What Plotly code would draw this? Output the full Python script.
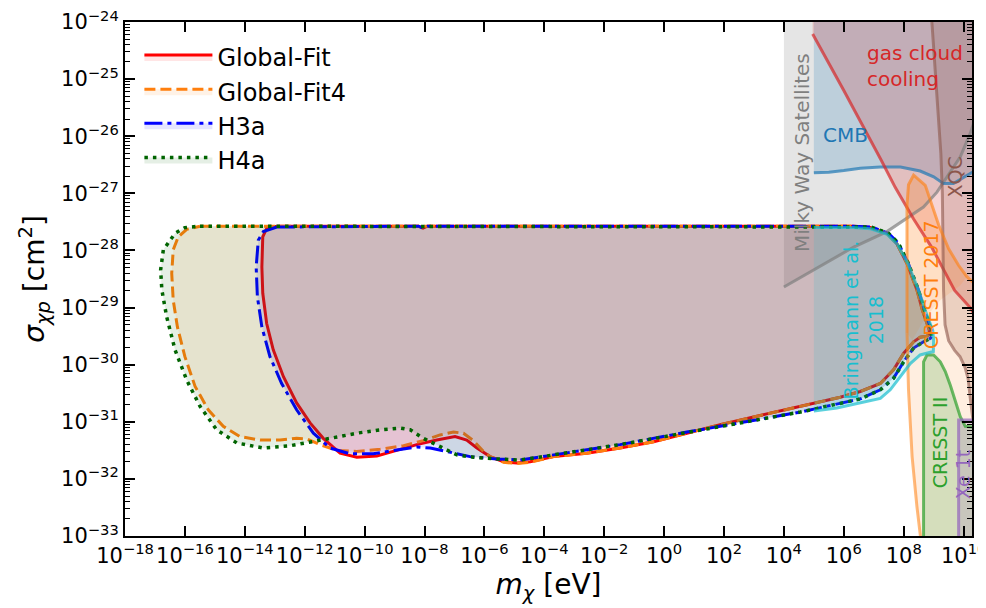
import numpy as np
import plotly.graph_objects as go

# ---------------- data (log10 m_chi [eV], log10 sigma [cm^2]) ----------------
global_fit = [(-12.93,-27.575),(-8.2,-27.575),(-8.05,-27.61),(-7.9,-27.575),(6.33,-27.575),(6.88,-27.60),
    (7.44,-27.70),(7.77,-27.88),(8.11,-28.23),(8.44,-28.69),(8.62,-29.04),(8.85,-29.39),(8.86,-29.46),
    (8.78,-29.50),(8.55,-29.52),(8.33,-29.60),(8.00,-29.80),(7.66,-30.09),(7.22,-30.33),(6.55,-30.47),
    (5.88,-30.57),(4.55,-30.73),(2.99,-30.91),(1.87,-31.05),(0.76,-31.20),(-0.35,-31.35),(-1.47,-31.46),
    (-2.58,-31.55),(-3.69,-31.61),(-4.47,-31.70),(-4.92,-31.72),(-5.36,-31.70),(-5.81,-31.61),(-6.25,-31.46),
    (-6.59,-31.32),(-6.98,-31.26),(-7.59,-31.32),(-8.26,-31.40),(-8.93,-31.50),(-9.59,-31.60),(-10.26,-31.62),
    (-10.82,-31.55),(-11.38,-31.29),(-11.82,-31.02),(-12.27,-30.67),(-12.71,-30.21),(-13.05,-29.74),
    (-13.27,-29.28),(-13.40,-28.75),(-13.43,-28.29),(-13.40,-27.76),(-13.27,-27.615),(-12.93,-27.575)]

global_fit4 = [(-15.495,-27.575),(6.33,-27.575),(6.88,-27.60),(7.44,-27.70),(7.77,-27.88),(8.11,-28.23),
    (8.44,-28.69),(8.62,-29.04),(8.85,-29.39),(8.86,-29.46),(8.78,-29.50),(8.55,-29.52),(8.33,-29.60),
    (8.00,-29.80),(7.66,-30.09),(7.22,-30.33),(6.55,-30.47),(5.88,-30.57),(4.55,-30.73),(2.99,-30.91),
    (1.87,-31.05),(0.76,-31.20),(-0.35,-31.35),(-1.47,-31.46),(-2.58,-31.55),(-3.69,-31.61),(-4.47,-31.71),
    (-4.92,-31.73),(-5.36,-31.71),(-5.81,-31.61),(-6.03,-31.52),(-6.37,-31.33),(-6.70,-31.20),(-7.03,-31.18),
    (-7.48,-31.23),(-8.04,-31.33),(-8.70,-31.42),(-9.48,-31.48),(-10.26,-31.52),(-10.93,-31.50),
    (-11.49,-31.40),(-11.93,-31.30),(-12.27,-31.29),(-12.82,-31.32),(-13.49,-31.32),(-14.16,-31.26),
    (-14.72,-31.08),(-15.22,-30.79),(-15.66,-30.38),(-16.00,-29.86),(-16.25,-29.34),(-16.39,-28.87),
    (-16.44,-28.40),(-16.39,-27.99),(-16.22,-27.76),(-15.94,-27.63),(-15.495,-27.575)]

h3a = [(-12.93,-27.59),(-8.2,-27.575),(-8.05,-27.61),(-7.9,-27.575),(6.31,-27.575),(6.92,-27.59),
    (7.49,-27.70),(7.82,-27.87),(8.15,-28.22),(8.49,-28.69),(8.69,-29.04),(8.92,-29.39),(8.93,-29.50),
    (8.89,-29.54),(8.66,-29.60),(8.33,-29.71),(8.00,-29.95),(7.66,-30.24),(7.22,-30.44),(6.55,-30.60),
    (4.55,-30.83),(2.99,-30.98),(1.87,-31.08),(0.76,-31.18),(-0.35,-31.29),(-1.47,-31.40),(-2.58,-31.49),
    (-3.69,-31.58),(-4.81,-31.67),(-5.59,-31.65),(-6.48,-31.61),(-7.26,-31.52),(-7.81,-31.46),(-8.26,-31.44),
    (-8.93,-31.50),(-9.71,-31.56),(-10.49,-31.56),(-11.15,-31.46),(-11.71,-31.20),(-12.27,-30.79),
    (-12.77,-30.33),(-13.16,-29.86),(-13.43,-29.34),(-13.58,-28.81),(-13.62,-28.29),(-13.55,-27.82),
    (-13.38,-27.67),(-12.93,-27.59)]

h4a = [(-15.495,-27.575),(6.31,-27.575),(6.92,-27.59),(7.49,-27.70),(7.82,-27.87),(8.15,-28.22),
    (8.49,-28.69),(8.69,-29.04),(8.92,-29.39),(8.93,-29.50),(8.89,-29.54),(8.66,-29.60),(8.33,-29.71),
    (8.00,-29.95),(7.66,-30.24),(7.22,-30.44),(6.55,-30.60),(4.55,-30.83),(2.99,-30.98),(1.87,-31.08),
    (0.76,-31.18),(-0.35,-31.29),(-1.47,-31.40),(-2.58,-31.49),(-3.69,-31.58),(-4.81,-31.67),(-5.59,-31.65),
    (-6.37,-31.62),(-6.92,-31.58),(-7.48,-31.43),(-8.04,-31.29),(-8.48,-31.14),(-8.81,-31.11),(-9.48,-31.14),
    (-10.26,-31.20),(-11.15,-31.29),(-11.82,-31.35),(-12.49,-31.42),(-13.38,-31.46),(-14.27,-31.37),
    (-14.94,-31.14),(-15.495,-30.73),(-15.94,-30.27),(-16.33,-29.74),(-16.61,-29.16),(-16.77,-28.69),
    (-16.81,-28.34),(-16.72,-27.99),(-16.33,-27.70),(-16.0,-27.60),(-15.495,-27.575)]

# constraint boundaries
mw_line = [(4.0,-28.64),(5.0,-28.34),(6.33,-27.94),(7.44,-27.67),(8.11,-27.44),(8.66,-27.24),(9.11,-26.98),
    (9.44,-26.71),(9.89,-26.36),(10.22,-25.95),(10.45,-25.6)]
cmb_line = [(5.0,-26.64),(5.5,-26.63),(6.0,-26.60),(6.55,-26.56),(7.22,-26.54),(7.89,-26.54),(8.55,-26.61),
    (9.0,-26.71),(9.33,-26.83),(9.66,-26.83),(9.94,-26.74),(10.45,-26.58)]
gas_line = [(4.96,-24.21),(6.0,-25.2),(7.25,-26.42),(7.72,-26.90),(8.33,-27.45),(8.94,-27.95),(9.7,-28.70),
    (10.22,-29.0),(10.45,-29.2)]
xqc_line = [(8.94,-24.0),(9.05,-24.8),(9.15,-25.5),(9.24,-26.3),(9.29,-27.0),(9.31,-28.0),(9.33,-28.7),
    (9.38,-29.3),(9.50,-29.58),(9.70,-29.75),(9.88,-29.86),(10.05,-30.05),(10.15,-30.25),(10.24,-30.67),
    (10.32,-31.0)]
cresst17_low = [(8.58,-33.1),(8.44,-32.48),(8.28,-31.61),(8.16,-30.44),(8.11,-29.45)]
cresst17_top = [(8.11,-29.45),(8.11,-27.2),(8.16,-26.85),(8.33,-26.68),(8.72,-26.86),(8.94,-27.21),
    (9.17,-27.56),(9.50,-27.97),(9.83,-28.26),(10.11,-28.46),(10.45,-28.62)]
cresst17_inner = [(8.11,-29.45),(8.11,-27.2),(8.16,-26.85),(8.33,-26.68),(8.72,-26.86),(8.94,-27.21),
    (9.17,-27.56),(9.50,-27.97),(9.83,-28.26),(10.11,-28.46),(9.89,-28.61),(9.22,-28.87),(8.72,-29.18),
    (8.29,-29.57),(8.11,-29.45)]
cresst2_line = [(8.663,-33.1),(8.663,-29.95),(8.777,-29.83),(8.998,-29.83),(9.222,-29.95),(9.389,-30.12),
    (9.556,-30.36),(9.723,-30.62),(9.889,-30.91),(10.056,-31.08),(10.45,-31.1)]
xe1t_line = [(9.833,-33.1),(9.833,-30.97),(10.45,-30.97)]
bringmann_line = [(5.0,-27.6),(6.3,-27.6),(6.9,-27.62),(7.45,-27.72),(7.8,-27.9),(8.15,-28.24),(8.5,-28.70),
    (8.72,-29.05),(8.97,-29.40),(9.0,-29.57),(8.99,-29.77),(8.78,-29.80),(8.55,-29.83),(8.22,-29.98),
    (7.89,-30.21),(7.55,-30.44),(7.22,-30.59),(6.55,-30.67),(5.77,-30.76),(5.0,-30.81)]

TOP, BOT, RIGHT = -24.0, -33.1, 10.45

x_ticks = list(range(-18, 11, 2))
y_ticks = list(range(-33, -23))


def xy(pts):
    a = np.array(pts, dtype=float)
    return 10 ** a[:, 0], 10 ** a[:, 1]


fig = go.Figure()
FONT = "DejaVu Sans"


def region(pts_fill, fillcolor):
    x, y = xy(pts_fill)
    fig.add_trace(go.Scatter(x=x, y=y, mode="lines", fill="toself", fillcolor=fillcolor,
                             line=dict(width=0, color="rgba(0,0,0,0)"), showlegend=False, hoverinfo="skip"))


def curve(pts, color, width=3):
    x, y = xy(pts)
    fig.add_trace(go.Scatter(x=x, y=y, mode="lines", line=dict(color=color, width=width),
                             showlegend=False, hoverinfo="skip"))


# constraint fills
region(mw_line + [(RIGHT, TOP), (4.0, TOP)], "rgba(127,127,127,0.2)")
region(cmb_line + [(RIGHT, TOP), (5.0, TOP)], "rgba(31,119,180,0.2)")
region([(4.96, TOP)] + gas_line + [(RIGHT, TOP)], "rgba(214,39,40,0.2)")
region(xqc_line + [(RIGHT, -31.0), (RIGHT, TOP)], "rgba(140,86,75,0.2)")

# main fit contours
mains = [("Global-Fit", global_fit, "red", "rgba(255,0,0,0.1)", "solid", 3),
         ("Global-Fit4", global_fit4, "#ff7f0e", "rgba(255,127,14,0.1)", "11px,5px", 3),
         ("H3a", h3a, "#0000ff", "rgba(0,0,255,0.1)", "18px,5px,4px,5px", 3),
         ("H4a", h4a, "#006400", "rgba(0,100,0,0.1)", "3.5px,5px", 3.5)]
for name, pts, col, fcol, dash, w in mains:
    x, y = xy(pts)
    fig.add_trace(go.Scatter(x=x, y=y, mode="lines", fill="toself", fillcolor=fcol, name=name,
                             line=dict(color=col, width=w, dash=dash), hoverinfo="skip"))

# more constraint fills
region(cresst17_low + cresst17_top[1:] + [(RIGHT, BOT)], "rgba(255,127,14,0.13)")
region(cresst17_inner, "rgba(255,127,14,0.13)")
region(cresst2_line + [(RIGHT, BOT)], "rgba(44,160,44,0.2)")
region(xe1t_line + [(RIGHT, BOT)], "rgba(148,103,189,0.2)")
region(bringmann_line, "rgba(23,190,207,0.15)")

# constraint lines
curve(mw_line, "rgba(127,127,127,0.7)")
curve(cmb_line, "rgba(31,119,180,0.7)")
curve(gas_line, "rgba(214,39,40,0.7)")
curve(xqc_line, "rgba(140,86,75,0.6)")
curve(cresst17_low, "rgba(255,127,14,0.55)")
curve(cresst17_top, "rgba(255,127,14,0.6)")
curve(cresst2_line, "rgba(44,160,44,0.7)")
curve(xe1t_line, "rgba(148,103,189,0.7)")
curve(bringmann_line, "rgba(23,190,207,0.7)")

# labels
labels = [("Milky Way Satellites", 4.595, -26.28, "#7f7f7f", -90, 20),
          ("CMB", 6.05, -25.97, "#1f77b4", 0, 20),
          ("XQC", 9.72, -26.72, "#8c564b", -90, 19),
          ("CRESST 2017", 8.886, -28.60, "#ff7f0e", -90, 19),
          ("Bringmann et al.<br>2018", 6.65, -29.22, "#17becf", -90, 19),
          ("CRESST II", 9.22, -31.37, "#2ca02c", -90, 19),
          ("Xe 1t", 9.99, -31.93, "#9467bd", -90, 19)]
for txt, lx, ly, col, ang, sz in labels:
    fig.add_annotation(x=lx, y=ly, xref="x", yref="y", text=txt, showarrow=False, textangle=ang,
                       font=dict(family=FONT, size=sz, color=col), xanchor="center", yanchor="middle")
fig.add_annotation(x=6.716, y=-24.77, xref="x", yref="y", text="gas cloud<br>cooling", showarrow=False,
                   align="left", xanchor="left", yanchor="middle",
                   font=dict(family=FONT, size=20, color="#d62728"))

axis_common = dict(type="log", showgrid=False, zeroline=False, showline=True, linewidth=2,
                   linecolor="black", ticks="inside", ticklen=10, tickwidth=1.5, tickcolor="black",
                   mirror="allticks", ticklabeloverflow="allow", automargin=False, tickangle=0,
                   tickfont=dict(family=FONT, size=21, color="black"))

minor_y = [k * 10.0 ** d for d in range(-33, -24) for k in range(2, 10)]

fig.update_xaxes(**axis_common, range=[-18, 10.28], tickmode="array",
                 tickvals=[10.0 ** v for v in x_ticks],
                 ticktext=["10<sup>%s</sup>" % (str(v).replace("-", "\u2212")) for v in x_ticks],
                 title=dict(text="<i>m</i><sub><i>\u03c7</i></sub> [eV]", standoff=6,
                            font=dict(family=FONT, size=28, color="black")))
fig.update_yaxes(**axis_common, range=[-33, -24], tickmode="array",
                 tickvals=[10.0 ** v for v in y_ticks],
                 ticktext=["10<sup>%s</sup>" % (str(v).replace("-", "\u2212")) for v in y_ticks],
                 minor=dict(ticks="inside", ticklen=5, tickwidth=1, tickcolor="black",
                            tickmode="array", tickvals=minor_y, showgrid=False),
                 title=dict(text="<i>\u03c3</i><sub><i>\u03c7p</i></sub> [cm<sup>2</sup>]", standoff=8,
                            font=dict(family=FONT, size=28, color="black")))

fig.update_layout(width=978, height=600, margin=dict(l=117, r=14, t=14, b=72),
                  paper_bgcolor="white", plot_bgcolor="white",
                  font=dict(family=FONT),
                  legend=dict(x=0.017, y=0.975, xanchor="left", yanchor="top", bgcolor="rgba(0,0,0,0)",
                              font=dict(family=FONT, size=24, color="black"), itemwidth=68,
                              tracegroupgap=6))

fig.write_html("out.html")
